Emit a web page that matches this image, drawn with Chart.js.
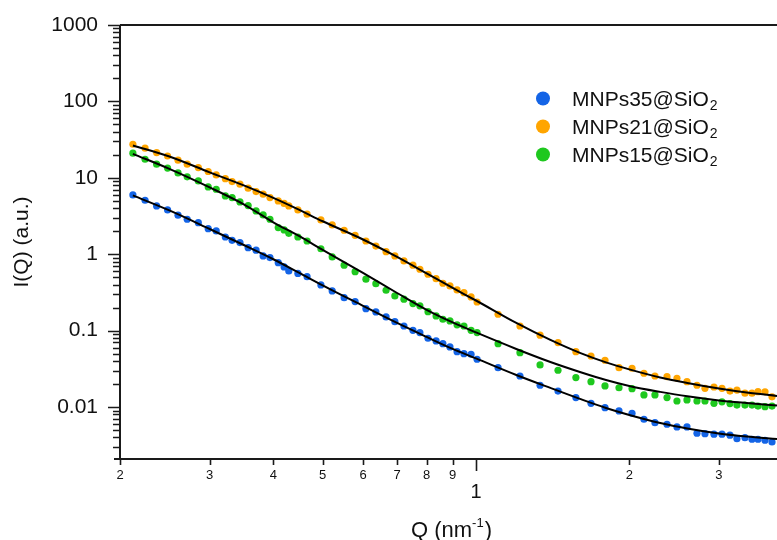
<!DOCTYPE html>
<html>
<head>
<meta charset="utf-8">
<style>
  html, body { margin: 0; padding: 0; background: #fff; }
  #wrap { width: 777px; height: 540px; }
</style>
<script src="https://cdn.jsdelivr.net/npm/chart.js@4.4.0/dist/chart.umd.min.js"></script>
</head>
<body>
<div id="wrap"><canvas id="saxs" width="777" height="540"></canvas></div>
<script>
// measured points, Q in nm^-1
var q = [0.212, 0.224, 0.236, 0.248, 0.260, 0.271, 0.285, 0.298, 0.309, 0.322,
  0.332, 0.344, 0.357, 0.370, 0.382, 0.394, 0.409, 0.420, 0.429, 0.447,
  0.466, 0.496, 0.522, 0.551, 0.579, 0.608, 0.636, 0.666, 0.693, 0.722,
  0.752, 0.776, 0.805, 0.835, 0.861, 0.889, 0.918, 0.947, 0.978, 1.005,
  1.105, 1.220, 1.336, 1.449, 1.571, 1.682, 1.792, 1.909,
  2.025, 2.137, 2.246, 2.372, 2.481, 2.596, 2.716, 2.816, 2.933, 3.041,
  3.153, 3.254, 3.374, 3.483, 3.579, 3.694, 3.813];

var mnps35 = [5.97, 5.09, 4.29, 3.80, 3.24, 2.87, 2.59, 2.16, 2.02, 1.68,
  1.52, 1.42, 1.22, 1.13, 0.950, 0.903, 0.776, 0.682, 0.604, 0.561,
  0.509, 0.396, 0.331, 0.270, 0.240, 0.194, 0.176, 0.151, 0.131, 0.115,
  0.101, 0.0942, 0.0795, 0.0733, 0.0676, 0.0612, 0.0531, 0.0500, 0.0491, 0.0422,
  0.0328, 0.0255, 0.0193, 0.0162, 0.0133, 0.0112, 0.00982, 0.00889,
  0.00830, 0.00692, 0.00625, 0.00596, 0.00549, 0.00549, 0.00454, 0.00448, 0.00441, 0.00441,
  0.00428, 0.00386, 0.00398, 0.00379, 0.00379, 0.00368, 0.00349];

var mnps21 = [27.5, 24.4, 21.4, 19.3, 17.0, 15.1, 13.6, 12.1, 10.9, 9.76,
  8.92, 8.25, 7.31, 6.60, 6.10, 5.51, 4.98, 4.62, 4.29, 3.80,
  3.34, 2.81, 2.42, 2.06, 1.77, 1.49, 1.28, 1.08, 0.950, 0.817,
  0.718, 0.636, 0.547, 0.479, 0.417, 0.385, 0.341, 0.314, 0.276, 0.237,
  0.164, 0.115, 0.0871, 0.0697, 0.0531, 0.0466, 0.0410, 0.0328,
  0.0322, 0.0277, 0.0255, 0.0250, 0.0238, 0.0215, 0.0193, 0.0176, 0.0183, 0.0176,
  0.0162, 0.0167, 0.0152, 0.0152, 0.0159, 0.0158, 0.0136];

var mnps15 = [21.0, 17.5, 15.1, 13.4, 11.6, 10.3, 9.11, 7.60, 7.09, 5.80,
  5.51, 4.84, 4.33, 3.69, 3.27, 2.87, 2.23, 2.08, 1.88, 1.68,
  1.49, 1.18, 0.922, 0.718, 0.592, 0.471, 0.412, 0.338, 0.285, 0.258,
  0.226, 0.211, 0.177, 0.156, 0.141, 0.134, 0.119, 0.115, 0.101, 0.0942,
  0.0676, 0.0515, 0.0356, 0.0303, 0.0243, 0.0215, 0.0189, 0.0179,
  0.0174, 0.0144, 0.0144, 0.0133, 0.0120, 0.0124, 0.0120, 0.0120, 0.0112, 0.0117,
  0.0111, 0.0106, 0.0106, 0.0106, 0.0103, 0.0101, 0.0103];

// fitted model curves (black lines)
var qFit = [0.212, 0.25, 0.3, 0.35, 0.4, 0.45, 0.5, 0.6, 0.7, 0.8, 0.9, 1.0,
  1.2, 1.4, 1.6, 1.8, 2.0, 2.3, 2.6, 3.0, 3.4, 3.9];
var fit35 = [5.88, 3.74, 2.14, 1.32, 0.860, 0.569, 0.391, 0.211, 0.126, 0.0827, 0.0576, 0.0433,
  0.0263, 0.0178, 0.0128, 0.00973, 0.00788, 0.00619, 0.00525, 0.00451, 0.00412, 0.00382];
var fit21 = [26.5, 19.0, 11.8, 7.95, 5.46, 3.80, 2.70, 1.56, 0.922, 0.561, 0.362, 0.248,
  0.126, 0.0755, 0.0511, 0.0384, 0.0311, 0.0244, 0.0207, 0.0175, 0.0155, 0.0140];
var fit15 = [20.6, 13.1, 7.49, 4.50, 2.62, 1.72, 1.14, 0.569, 0.311, 0.187, 0.128, 0.0947,
  0.0576, 0.0389, 0.0288, 0.0226, 0.0189, 0.0158, 0.0138, 0.0122, 0.0113, 0.0105];

var seriesNames = ['MNPs35@SiO2', 'MNPs21@SiO2', 'MNPs15@SiO2'];
var seriesColors = ['#1464e6', '#ffa500', '#1ec81e'];

var xTicks = [0.2, 0.3, 0.4, 0.5, 0.6, 0.7, 0.8, 0.9, 1, 2, 3];
var yTicks = [0.01, 0.1, 1, 10, 100, 1000];

var FONT = '"Liberation Sans", Arial, sans-serif';
Chart.defaults.font.family = FONT;
Chart.defaults.color = '#111';

function pts(xs, ys) {
  return xs.map(function(v, i) { return {x: v, y: ys[i]}; });
}

var measured = [mnps35, mnps21, mnps15];
var fits = [fit35, fit21, fit15];
var datasets = [];
measured.forEach(function(vals, i) {
  datasets.push({
    label: seriesNames[i],
    data: pts(q, vals),
    backgroundColor: seriesColors[i],
    borderWidth: 0,
    pointRadius: 3.6,
    showLine: false,
    order: 2
  });
});
fits.forEach(function(vals, i) {
  datasets.push({
    label: seriesNames[i] + ' fit',
    data: pts(qFit, vals),
    borderColor: '#000',
    borderWidth: 2,
    pointRadius: 0,
    showLine: true,
    cubicInterpolationMode: 'monotone',
    order: 1
  });
});

// axis frame, log ticks, legend and x title
var decorations = {
  id: 'decorations',
  afterDraw: function(chart) {
    var ctx = chart.ctx, a = chart.chartArea;
    var xs = chart.scales.x, ys = chart.scales.y;
    ctx.save();
    ctx.strokeStyle = '#1a1a1a';
    ctx.lineWidth = 2;
    ctx.beginPath();
    ctx.moveTo(a.left, a.top); ctx.lineTo(a.right, a.top);
    ctx.moveTo(a.left, a.top); ctx.lineTo(a.left, a.bottom);
    ctx.moveTo(a.left - 6, a.bottom); ctx.lineTo(a.right, a.bottom);
    ctx.stroke();

    ctx.lineWidth = 1.6;
    ctx.beginPath();
    for (var d = -3; d <= 3; d++) {
      for (var k = 1; k <= 9; k++) {
        var v = k * Math.pow(10, d);
        if (v < ys.min || v > ys.max) continue;
        var py = Math.round(ys.getPixelForValue(v)) + 0.5;
        ctx.moveTo(a.left - (k === 1 ? 12 : 7), py);
        ctx.lineTo(a.left, py);
      }
    }
    for (var e = -1; e <= 0; e++) {
      for (var m = 1; m <= 9; m++) {
        var w = m * Math.pow(10, e);
        if (w < xs.min - 1e-9 || w > xs.max) continue;
        var px = Math.round(xs.getPixelForValue(w)) + 0.5;
        ctx.moveTo(px, a.bottom);
        ctx.lineTo(px, a.bottom + (m === 1 ? 12 : 6));
      }
    }
    ctx.stroke();

    // legend
    var lx = 543, ly = 98.5, gap = 28;
    seriesNames.forEach(function(name, i) {
      var y = ly + i * gap;
      ctx.fillStyle = seriesColors[i];
      ctx.beginPath();
      ctx.arc(lx, y, 7, 0, Math.PI * 2);
      ctx.fill();
      ctx.fillStyle = '#111';
      ctx.textBaseline = 'alphabetic';
      ctx.textAlign = 'left';
      var main = name.slice(0, -1), sub = name.slice(-1);
      ctx.font = '21px ' + FONT;
      ctx.fillText(main, 572, y + 7);
      var mw = ctx.measureText(main).width;
      ctx.font = '14px ' + FONT;
      ctx.fillText(sub, 572 + mw + 1, y + 11);
    });

    // x axis title with superscript
    ctx.fillStyle = '#111';
    var t1 = 'Q (nm', t2 = '-1', t3 = ')';
    ctx.font = '22px ' + FONT;
    var w1 = ctx.measureText(t1).width, w3 = ctx.measureText(t3).width;
    ctx.font = '13px ' + FONT;
    var w2 = ctx.measureText(t2).width;
    var x0 = 451.5 - (w1 + w2 + w3 + 1) / 2, base = 536.5;
    ctx.font = '22px ' + FONT;
    ctx.fillText(t1, x0, base);
    ctx.font = '13px ' + FONT;
    ctx.fillText(t2, x0 + w1, base - 10);
    ctx.font = '22px ' + FONT;
    ctx.fillText(t3, x0 + w1 + w2 + 1, base);
    ctx.restore();
  }
};

var ctx = document.getElementById('saxs').getContext('2d');
var chart = new Chart(ctx, {
  type: 'scatter',
  data: {datasets: datasets},
  plugins: [decorations],
  options: {
    responsive: false,
    animation: false,
    devicePixelRatio: 1,
    layout: {autoPadding: false, padding: {top: 25, right: 0, left: 0, bottom: 0}},
    plugins: {legend: {display: false}, tooltip: {enabled: false}},
    scales: {
      x: {
        type: 'logarithmic',
        min: 0.2,
        max: 3.9,
        afterBuildTicks: function(s) { s.ticks = xTicks.map(function(v) { return {value: v}; }); },
        afterFit: function(s) {
          s.height = 81;
          s.paddingLeft = 0; s.paddingRight = 0;
        },
        grid: {display: false, drawTicks: false},
        border: {display: false},
        ticks: {
          autoSkip: false,
          maxRotation: 0,
          padding: 9,
          color: '#111',
          callback: function(v) {
            if (v === 1) return ['', '1'];
            return v < 1 ? String(Math.round(v * 10)) : String(v);
          },
          font: function(c) {
            if (c.tick && c.tick.value === 1) return {size: 20, lineHeight: 0.83};
            return {size: 13};
          }
        }
      },
      y: {
        type: 'logarithmic',
        min: 0.00209,
        max: 1000,
        afterBuildTicks: function(s) { s.ticks = yTicks.map(function(v) { return {value: v}; }); },
        afterFit: function(s) {
          s.width = 120;
          s.paddingTop = 0; s.paddingBottom = 0;
        },
        grid: {display: false, drawTicks: false},
        border: {display: false},
        ticks: {
          padding: 22,
          color: '#111',
          font: {size: 21},
          callback: function(v) { return String(v); }
        },
        title: {
          display: true,
          text: 'I(Q) (a.u.)',
          color: '#111',
          font: {size: 21},
          padding: {top: 10, bottom: 0}
        }
      }
    }
  }
});
</script>
</body>
</html>
